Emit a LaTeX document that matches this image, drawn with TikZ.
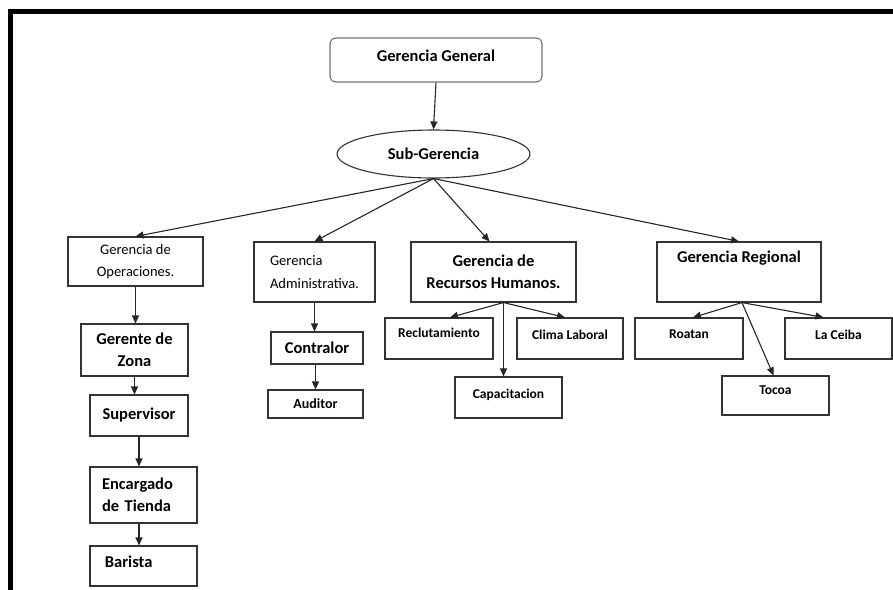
\documentclass[tikz,border=0pt]{standalone}
\usepackage{fontspec}
\setmainfont{Carlito}
\usetikzlibrary{
    arrows.meta,
    shapes,
    calc,
    positioning
}
\tikzset{box/.style={draw=black!80, line width=1.1pt, inner sep=0pt, align=center}}
\tikzset{bigtxt/.style={font=\fontsize{16.5}{22}\selectfont\bfseries}}
\tikzset{midtxt/.style={font=\fontsize{14.5}{22.5}\selectfont}}
\tikzset{smltxt/.style={font=\fontsize{13.5}{16}\selectfont\bfseries}}
\tikzset{lnk/.style={line width=1.1pt, draw=black!85, -{Triangle[length=8pt, width=7pt]}}}

\begin{document}
\begin{tikzpicture}[x=1pt, y=-1pt]
                    \useasboundingbox (0, 0) rectangle (893, 589);
                    \draw[line width=5pt] (10, 600) -- (10, 11) -- (900, 11);

                    \node[box, rounded corners=6pt, draw=black!55, minimum width=212, minimum height=44, label={[bigtxt, yshift=4]center:Gerencia General}] (gg) at (436, 60) {};
                    \node[ellipse, draw=black!80, line width=1.1pt, bigtxt, inner sep=0pt, minimum width=193, minimum height=48] (sub) at (433.5, 154) {Sub-Gerencia};

                    \node[box, midtxt, minimum width=135, minimum height=49] (go) at (135.5, 261.5) {Gerencia de\\Operaciones.};
                    \node[box, midtxt, align=left, minimum width=121, minimum height=60] (ga) at (314.5, 272) {Gerencia\\Administrativa.};
                    \node[box, bigtxt, minimum width=165, minimum height=60] (grh) at (493.5, 272) {Gerencia de\\Recursos Humanos.};
                    \node[box, minimum width=164, minimum height=60, label={[bigtxt, yshift=14]center:Gerencia Regional}] (gr) at (739, 272) {};

                    \node[box, bigtxt, minimum width=107, minimum height=52] (gz) at (134.5, 350) {Gerente de\\Zona};
                    \node[box, bigtxt, minimum width=98, minimum height=41] (sup) at (139, 415.5) {Supervisor};
                    \node[box, bigtxt, align=left, text width=83, minimum width=107, minimum height=56] (enc) at (143.5, 495) {Encargado\\de Tienda};
                    \node[box, minimum width=107, minimum height=40, label={[bigtxt, anchor=west, xshift=12, yshift=4]west:Barista}] (bar) at (143.5, 566) {};

                    \node[box, bigtxt, minimum width=92, minimum height=32] (con) at (317, 348) {Contralor};
                    \node[box, font=\fontsize{14}{16}\selectfont\bfseries, minimum width=95, minimum height=28] (aud) at (315.5, 404) {Auditor};

                    \node[box, minimum width=108, minimum height=41, label={[smltxt, yshift=6]center:Reclutamiento}] (rec) at (439, 338.5) {};
                    \node[box, minimum width=106, minimum height=41, label={[smltxt, yshift=4]center:Clima Laboral}] (cli) at (570, 338.5) {};
                    \node[box, minimum width=107, minimum height=41, label={[smltxt, yshift=3]center:Capacitacion}] (cap) at (508.5, 397.5) {};

                    \node[box, minimum width=108, minimum height=41, label={[smltxt, yshift=4]center:Roatan}] (roa) at (689, 338.5) {};
                    \node[box, minimum width=107, minimum height=41, label={[smltxt, yshift=4]center:La Ceiba}] (cei) at (838.5, 338.5) {};
                    \node[box, minimum width=107, minimum height=39, label={[smltxt, yshift=5]center:Tocoa}] (toc) at (775.5, 395.5) {};

                    \coordinate (grhs) at ($(grh.south)+(10, 0)$);
                    \coordinate (grs) at ($(gr.south)+(3, 0)$);

                    \draw
                    (gg.south) edge[lnk] (sub.north)
                    (sub.south) edge[lnk] (go.north)
                    (sub.south) edge[lnk] (ga.north)
                    (sub.south) edge[lnk] ([xshift=-4]grh.north)
                    (sub.south) edge[lnk] (gr.north)
                    (go.south) edge[lnk] (go.south |- gz.north)
                    (gz.south) edge[lnk] (gz.south |- sup.north)
                    (sup.south) edge[lnk] (sup.south |- enc.north)
                    (sup.south |- enc.south) edge[lnk] (sup.south |- bar.north)
                    (ga.south) edge[lnk] (ga.south |- con.north)
                    (aud.north |- con.south) edge[lnk] (aud.north)
                    (grhs) edge[lnk] ([xshift=11]rec.north)
                    (grhs) edge[lnk] ([xshift=-5]cli.north)
                    (grhs) edge[lnk] (grhs |- cap.north)
                    (grs) edge[lnk] ([xshift=4]roa.north)
                    (grs) edge[lnk] ([xshift=-15]cei.north)
                    (grs) edge[lnk] ([xshift=-2]toc.north);
                \end{tikzpicture}
\end{document}
